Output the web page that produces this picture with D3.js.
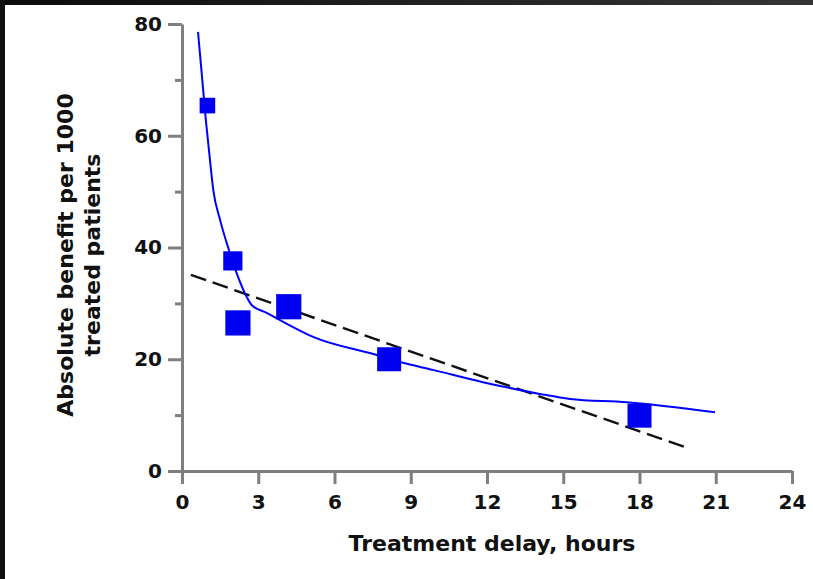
<!DOCTYPE html>
<html>
<head>
<meta charset="utf-8">
<script src="https://cdn.jsdelivr.net/npm/d3@7"></script>
<style>
  html, body { margin: 0; padding: 0; background: #fff; }
  #frame { position: relative; width: 813px; height: 579px; overflow: hidden; background: #fff; }
  #topband { position: absolute; left: 0; top: 0; width: 813px; height: 5px;
             background: linear-gradient(to right, #0b0b0b, #353535); }
  #leftband { position: absolute; left: 0; top: 0; width: 5px; height: 579px; background: #101010; }
  svg { position: absolute; left: 0; top: 0; }
</style>
</head>
<body>
<div id="frame">
  <div id="topband"></div>
  <div id="leftband"></div>
  <div id="chart"></div>
</div>
<script>
// trial groups: delay (hours) vs benefit per 1000
var delayHours = [1.0, 2.0, 2.2, 4.2, 8.15, 18.0]
var benefit = [65.4, 37.6, 26.5, 29.4, 20.0, 9.9]
var trialWeight = [0.65, 0.8, 1.05, 1.05, 1, 1] // relative marker weight

// fitted curve
var curveX = [0.63, 0.94, 1.1, 1.23, 1.5, 1.85, 2.15, 2.55, 2.74, 3.33, 3.98, 5.16, 7.63, 8.58, 9.87, 11.84, 14.08, 15.26, 17.5, 20.97]
var curveY = [78.6, 62.7, 55.7, 50.3, 44.9, 39.5, 35.4, 31.1, 29.7, 28.3, 26.7, 24.0, 20.8, 19.5, 18.1, 15.9, 13.8, 12.9, 12.3, 10.5]

// linear regression line
var regX = [0.35, 19.9]
var regY = [35.1, 4.1]

var xTicks = [0, 3, 6, 9, 12, 15, 18, 21, 24]
var yTicks = [0, 20, 40, 60, 80]
var yMinorTicks = [10, 30, 50, 70]

var font = "'DejaVu Sans', Verdana, sans-serif"
var axisColor = "#7f7f7f"

var svg = d3.select("#chart").append("svg")
  .attr("width", 813)
  .attr("height", 579)

var x = d3.scaleLinear().domain([0, 24]).range([182, 792])
var y = d3.scaleLinear().domain([0, 80]).range([471, 24])
var markerSide = d3.scaleLinear().domain([0, 1]).range([0, 24])

// x axis
var gx = svg.append("g")
  .attr("transform", "translate(0," + y(0) + ")")
  .call(d3.axisBottom(x).tickValues(xTicks).tickSize(13).tickPadding(11).tickSizeOuter(0))
gx.select(".domain").attr("stroke", axisColor).attr("stroke-width", 3)
gx.selectAll(".tick line").attr("stroke", axisColor).attr("stroke-width", 3)
gx.selectAll(".tick text")
  .attr("font-family", font).attr("font-weight", "bold").attr("font-size", 20).attr("fill", "#111")

// y axis
var gy = svg.append("g")
  .attr("transform", "translate(" + x(0) + ",0)")
  .call(d3.axisLeft(y).tickValues(yTicks).tickSize(14).tickPadding(6).tickSizeOuter(0))
gy.select(".domain").attr("stroke", axisColor).attr("stroke-width", 3)
gy.selectAll(".tick line").attr("stroke", axisColor).attr("stroke-width", 3)
gy.selectAll(".tick text")
  .attr("font-family", font).attr("font-weight", "bold").attr("font-size", 20).attr("fill", "#111")

var gyMinor = svg.append("g")
  .attr("transform", "translate(" + x(0) + ",0)")
  .call(d3.axisLeft(y).tickValues(yMinorTicks).tickSize(7).tickFormat("").tickSizeOuter(0))
gyMinor.select(".domain").remove()
gyMinor.selectAll(".tick line").attr("stroke", axisColor).attr("stroke-width", 3)

// regression (dashed)
svg.append("path")
  .datum(regX.map(function(d, i) { return [d, regY[i]] }))
  .attr("d", d3.line().x(function(d) { return x(d[0]) }).y(function(d) { return y(d[1]) }))
  .attr("fill", "none")
  .attr("stroke", "#111")
  .attr("stroke-width", 2.4)
  .attr("stroke-dasharray", "16,7")

// fitted curve
svg.append("path")
  .datum(curveX.map(function(d, i) { return [d, curveY[i]] }))
  .attr("d", d3.line().curve(d3.curveMonotoneX).x(function(d) { return x(d[0]) }).y(function(d) { return y(d[1]) }))
  .attr("fill", "none")
  .attr("stroke", "#0000ff")
  .attr("stroke-width", 2)

// squares
svg.selectAll("rect.pt")
  .data(delayHours)
  .enter().append("rect")
  .attr("class", "pt")
  .attr("x", function(d, i) { return x(d) - markerSide(trialWeight[i]) / 2 })
  .attr("y", function(d, i) { return y(benefit[i]) - markerSide(trialWeight[i]) / 2 })
  .attr("width", function(d, i) { return markerSide(trialWeight[i]) })
  .attr("height", function(d, i) { return markerSide(trialWeight[i]) })
  .attr("fill", "#0000f0")

// axis titles
svg.append("text")
  .attr("x", 492)
  .attr("y", 551)
  .attr("text-anchor", "middle")
  .attr("font-family", font).attr("font-weight", "bold").attr("font-size", 22).attr("fill", "#111")
  .text("Treatment delay, hours")

var yt = svg.append("text")
  .attr("transform", "translate(73,255) rotate(-90)")
  .attr("text-anchor", "middle")
  .attr("font-family", font).attr("font-weight", "bold").attr("font-size", 22).attr("fill", "#111")
yt.append("tspan").attr("x", 0).attr("y", 0).text("Absolute benefit per 1000")
yt.append("tspan").attr("x", 0).attr("y", 27).text("treated patients")
</script>
</body>
</html>
